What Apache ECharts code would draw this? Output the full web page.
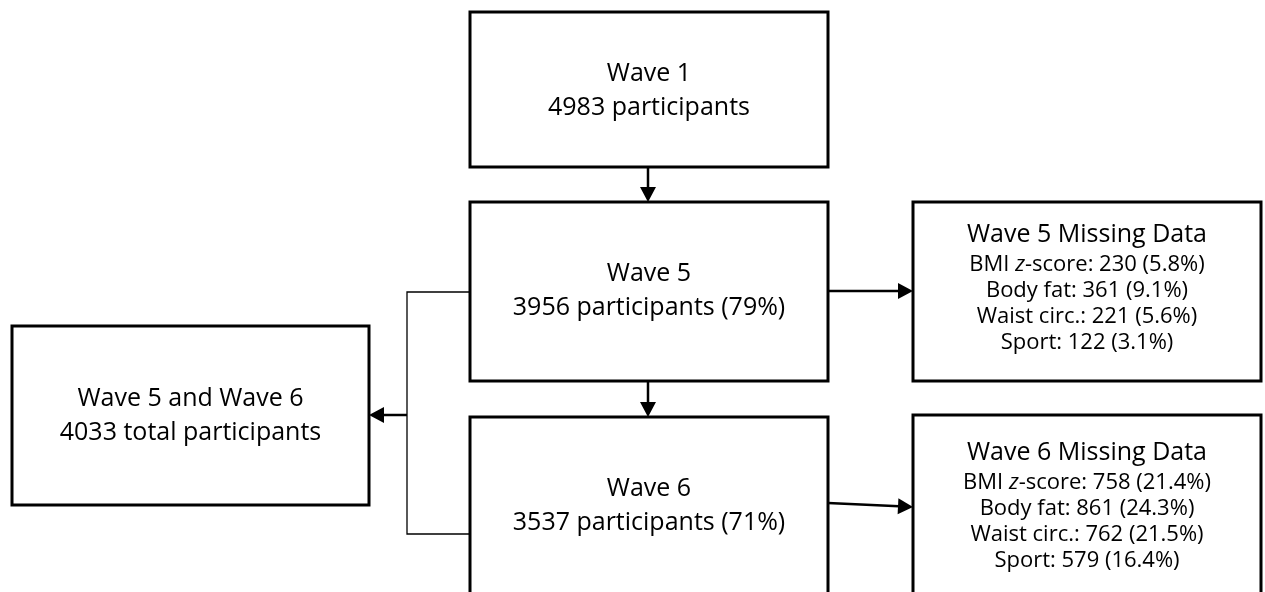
<!DOCTYPE html>
<html><head><meta charset="utf-8">
<script src="https://cdn.jsdelivr.net/npm/echarts@6/dist/echarts.min.js"></script>
<style>html,body{margin:0;padding:0;background:#fff;overflow:hidden}#chart{width:1265px;height:592px}</style>
</head><body><div id="chart"></div>
<script>
// ---------- data ----------
const waveNames = ['Wave 1', 'Wave 5', 'Wave 6'];
const waveParticipants = [4983, 3956, 3537];
const waveRetentionPct = [null, 79, 71];
const combinedName = 'Wave 5 and Wave 6';
const combinedParticipants = 4033;
const missingVariables = ['BMI z-score', 'Body fat', 'Waist circ.', 'Sport'];
const missingWave5Count = [230, 361, 221, 122];
const missingWave5Pct = [5.8, 9.1, 5.6, 3.1];
const missingWave6Count = [758, 861, 762, 579];
const missingWave6Pct = [21.4, 24.3, 21.5, 16.4];

// ---------- layout (canvas units) ----------
const FONT = '"Open Sans", sans-serif';
const MAIN_SIZE = 25, SUB_SIZE = 22;
const boxLayout = {
  w1:  {rect: [470, 12, 828, 167], dy: 1},
  w5:  {rect: [470, 202, 828, 381], dy: -1},
  w6:  {rect: [470, 417, 828, 594], dy: 0},
  m5:  {rect: [913, 202, 1261, 381], dy: -5},
  m6:  {rect: [913, 415, 1261, 594], dy: 0},
  all: {rect: [12, 326, 369, 505], dy: 0}
};
const edgeLayout = [
  {pts: [[648, 167], [648, 202]], arrow: true, w: 2.5},
  {pts: [[648, 381], [648, 417]], arrow: true, w: 2.5},
  {pts: [[828, 291], [913, 291]], arrow: true, w: 2.5},
  {pts: [[828, 503], [913, 507]], arrow: true, w: 2.5},
  {pts: [[470, 292], [407, 292], [407, 534], [470, 534]], arrow: false, w: 1.3},
  {pts: [[407, 415], [369, 415]], arrow: true, w: 2.5}
];

// ---------- text built from data ----------
function waveText(i) {
  const pct = waveRetentionPct[i] == null ? '' : ' (' + waveRetentionPct[i] + '%)';
  return '{m|' + waveNames[i] + '}\n{m|' + waveParticipants[i] + ' participants' + pct + '}';
}
function varRich(name) {
  const m = name.match(/^(.*\s)z(-score)$/);
  if (m) return '{s|' + m[1] + '}{si|z}{s|' + m[2];
  return '{s|' + name;
}
function missingText(wave, counts, pcts) {
  let t = '{t|' + wave + ' Missing Data}';
  missingVariables.forEach((v, k) => {
    t += '\n' + varRich(v) + ': ' + counts[k] + ' (' + pcts[k].toFixed(1) + '%)}';
  });
  return t;
}
const nodes = [
  {key: 'w1', text: waveText(0)},
  {key: 'w5', text: waveText(1)},
  {key: 'w6', text: waveText(2)},
  {key: 'm5', text: missingText(waveNames[1], missingWave5Count, missingWave5Pct)},
  {key: 'm6', text: missingText(waveNames[2], missingWave6Count, missingWave6Pct)},
  {key: 'all', text: '{m|' + combinedName + '}\n{m|' + combinedParticipants + ' total participants}'}
];

const rich = {
  m:  {fontFamily: FONT, fontSize: MAIN_SIZE, lineHeight: 34, fill: '#000'},
  t:  {fontFamily: FONT, fontSize: MAIN_SIZE, lineHeight: 34, fill: '#000'},
  s:  {fontFamily: FONT, fontSize: SUB_SIZE, lineHeight: 26, fill: '#000'},
  si: {fontFamily: FONT, fontSize: SUB_SIZE, lineHeight: 26, fontStyle: 'italic', fill: '#000'}
};

function renderNode(params, api) {
  const n = nodes[params.dataIndex];
  const L = boxLayout[n.key];
  const p0 = api.coord([L.rect[0], L.rect[1]]);
  const p1 = api.coord([L.rect[2], L.rect[3]]);
  const cx = (p0[0] + p1[0]) / 2, cy = (p0[1] + p1[1]) / 2 + L.dy;
  return {
    type: 'group',
    children: [
      {type: 'rect', shape: {x: p0[0], y: p0[1], width: p1[0] - p0[0], height: p1[1] - p0[1]},
       style: {fill: '#fff', stroke: '#000', lineWidth: 3}},
      {type: 'text', style: {text: n.text, rich: rich, x: cx, y: cy, align: 'center', verticalAlign: 'middle',
        fontFamily: FONT, fontSize: MAIN_SIZE, fill: '#000'}}
    ]
  };
}

function renderEdge(params, api) {
  const e = edgeLayout[params.dataIndex];
  const pts = e.pts.map(p => api.coord(p));
  const children = [];
  if (e.arrow) {
    const a = pts[pts.length - 2], b = pts[pts.length - 1];
    const dx = b[0] - a[0], dy = b[1] - a[1];
    const len = Math.sqrt(dx * dx + dy * dy);
    const ux = dx / len, uy = dy / len;
    const hl = 15, hw = 8;
    const base = [b[0] - ux * hl, b[1] - uy * hl];
    const linePts = pts.slice(0, -1).concat([[base[0] + ux * 1, base[1] + uy * 1]]);
    children.push({type: 'polyline', shape: {points: linePts}, style: {stroke: '#000', lineWidth: e.w, fill: null}});
    children.push({type: 'polygon', shape: {points: [b, [base[0] - uy * hw, base[1] + ux * hw], [base[0] + uy * hw, base[1] - ux * hw]]},
      style: {fill: '#000', stroke: null}});
  } else {
    children.push({type: 'polyline', shape: {points: pts}, style: {stroke: '#000', lineWidth: e.w, fill: null}});
  }
  return {type: 'group', children: children};
}

const chart = echarts.init(document.getElementById('chart'), null, {renderer: 'canvas'});
chart.setOption({
  animation: false,
  backgroundColor: '#fff',
  grid: {left: 0, right: 0, top: 0, bottom: 0},
  xAxis: {type: 'value', min: 0, max: 1265, show: false},
  yAxis: {type: 'value', min: 0, max: 592, inverse: true, show: false},
  series: [
    {type: 'custom', renderItem: renderEdge, data: edgeLayout.map((e, i) => [i]), clip: false, silent: true},
    {type: 'custom', renderItem: renderNode, data: nodes.map((n, i) => [i]), clip: false, silent: true}
  ]
});
</script></body></html>
